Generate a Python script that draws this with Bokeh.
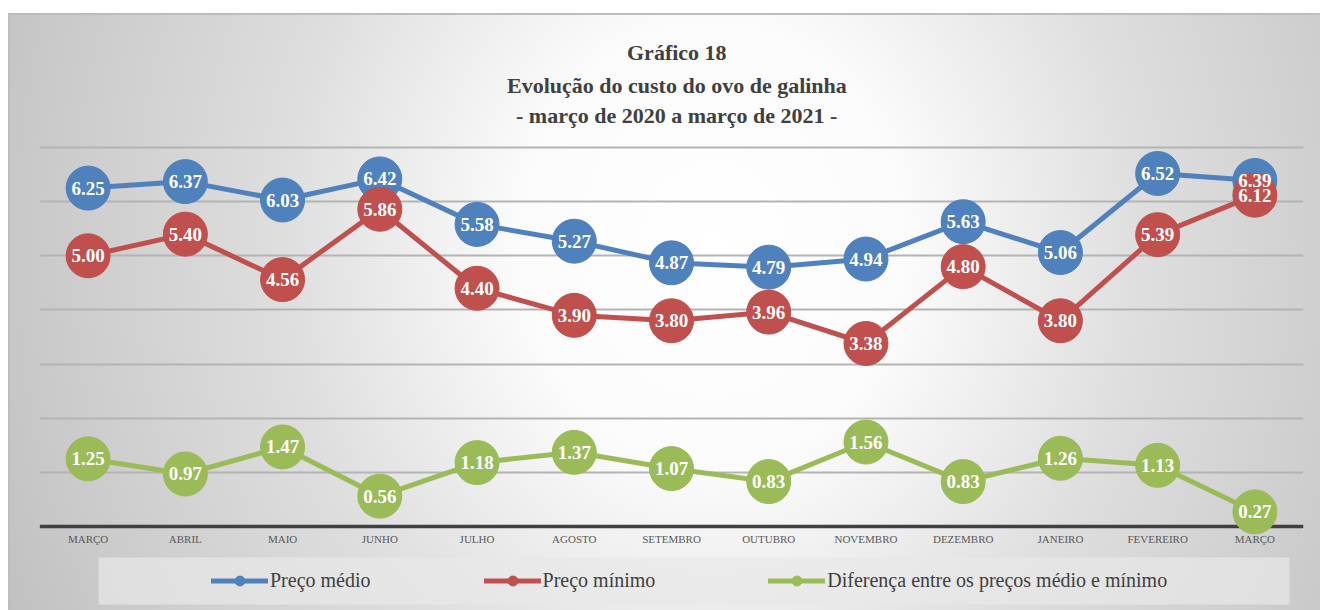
from bokeh.plotting import figure
from bokeh.models import Range1d, FixedTicker, Grid, Span, Legend, LegendItem, BoxAnnotation, Title
from bokeh.core.properties import value
from bokeh.embed import file_html
from bokeh.resources import INLINE

# ---------------- data ----------------
meses = ["MARÇO", "ABRIL", "MAIO", "JUNHO", "JULHO", "AGOSTO", "SETEMBRO",
         "OUTUBRO", "NOVEMBRO", "DEZEMBRO", "JANEIRO", "FEVEREIRO", "MARÇO"]
preco_medio = [6.25, 6.37, 6.03, 6.42, 5.58, 5.27, 4.87, 4.79, 4.94, 5.63, 5.06, 6.52, 6.39]
preco_minimo = [5.00, 5.40, 4.56, 5.86, 4.40, 3.90, 3.80, 3.96, 3.38, 4.80, 3.80, 5.39, 6.12]
diferenca = [1.25, 0.97, 1.47, 0.56, 1.18, 1.37, 1.07, 0.83, 1.56, 0.83, 1.26, 1.13, 0.27]
series_names = ["Preço médio", "Preço mínimo", "Diferença entre os preços médio e mínimo"]
grid_ticks = [1, 2, 3, 4, 5, 6, 7]
title_lines = ["Gráfico 18", "Evolução do custo do ovo de galinha",
               "- março de 2020 a março de 2021 -"]

# ---------------- layout ----------------
W, H = 1320, 610
BL, BR, BT = 39, 17, 127
frame_w = W - BL - BR
frame_h = H - BT
ppu = 379 / 7                 # pixels per unit (0 at y=526, 7 at y=147)
axis_y = 526
y_top = (axis_y - BT) / ppu
y_start = -(H - axis_y) / ppu
n = len(meses)
xs = list(range(n))
ppx = frame_w / n

def px_to_x(px):
    return -0.5 + (px - BL) / ppx

def px_to_y(py):
    return (axis_y - py) / ppu

SERIF = "Liberation Serif"
colors = ["#4f81bd", "#c0504d", "#9bbb59"]

p = figure(width=W, height=H, x_range=Range1d(-0.5, n - 0.5), y_range=Range1d(y_start, y_top),
           output_backend="svg", toolbar_location=None, y_axis_location=None,
           min_border_left=BL, min_border_right=BR, min_border_top=BT, min_border_bottom=0,
           background_fill_alpha=0, border_fill_alpha=0, outline_line_color=None)

p.styles = {"background": (
    "linear-gradient(#ffffff,#ffffff) 0 0/100% 13px no-repeat, "
    "linear-gradient(#ffffff,#ffffff) 0 0/8px 100% no-repeat, "
    "linear-gradient(#bdbdbd,#bdbdbd) 8px 13px/100% 2px no-repeat, "
    "linear-gradient(#bdbdbd,#bdbdbd) 8px 13px/2px 100% no-repeat, "
    "radial-gradient(ellipse 780px 900px at 54% 40%, #ffffff 0%, #fbfbfb 25%, "
    "#dedede 55%, #cbcbcb 85%, #c0c0c0 100%)")}

# title: three centred lines (centre at x = 676)
TITLE_CX = 676 - BL
def style_title(t, standoff, approx_w):
    t.align = "left"
    t.offset = TITLE_CX - approx_w / 2
    t.text_font = SERIF
    t.text_font_size = "22px"
    t.text_font_style = "bold"
    t.text_color = "#404040"
    t.text_line_height = 1.0
    t.standoff = standoff

p.title.text = title_lines[0]
style_title(p.title, 5, 99)
for line, so, w in [(title_lines[2], 0, 321), (title_lines[1], 6, 339)]:
    t = Title(text=line)
    style_title(t, so, w)
    p.add_layout(t, "above")

# grid
p.xgrid.visible = False
grid = Grid(dimension=1, ticker=FixedTicker(ticks=grid_ticks),
            grid_line_color="#b4b4b4", grid_line_width=2)
p.add_layout(grid)

# legend box
box = BoxAnnotation(left=px_to_x(98), right=px_to_x(1289), top=px_to_y(557), bottom=px_to_y(604),
                    fill_color="#e8e8e8", fill_alpha=0.7, line_color=None, level="underlay")
p.add_layout(box)

# axis line
p.add_layout(Span(location=0, dimension="width", line_color="#404040", line_width=3.5,
                  level="underlay"))

# x axis
ax = p.xaxis[0]
ax.fixed_location = 0
ax.ticker = FixedTicker(ticks=xs)
ax.major_label_overrides = {i: m for i, m in enumerate(meses)}
ax.axis_line_color = None
ax.major_tick_line_color = None
ax.minor_tick_line_color = None
ax.major_tick_in = 0
ax.major_tick_out = 0
ax.major_label_standoff = 6
ax.major_label_text_font = SERIF
ax.major_label_text_font_size = "11px"
ax.major_label_text_color = "#595959"

items = []
for vals, col, name in zip([preco_medio, preco_minimo, diferenca], colors, series_names):
    lr = p.line(xs, vals, line_color=col, line_width=5, line_join="round", line_cap="round")
    sr = p.scatter(xs, vals, size=44, fill_color=col, line_color=col)
    items.append(LegendItem(label=name, renderers=[lr, sr]))

for vals in [preco_medio, preco_minimo, diferenca]:
    p.text(xs, vals, text=[f"{v:.2f}" for v in vals], text_color="white",
           text_font=value(SERIF), text_font_style="bold", text_font_size="19px",
           text_align="center", text_baseline="middle")

legend = Legend(items=items, orientation="horizontal", location=(172, 17.5), spacing=113,
                padding=0, margin=0, glyph_width=57, glyph_height=25, label_standoff=2,
                label_text_font=SERIF, label_text_font_size="20px", label_text_color="#404040",
                background_fill_alpha=0, border_line_color=None)
p.add_layout(legend)

open("out.html", "w").write(file_html(p, INLINE))
